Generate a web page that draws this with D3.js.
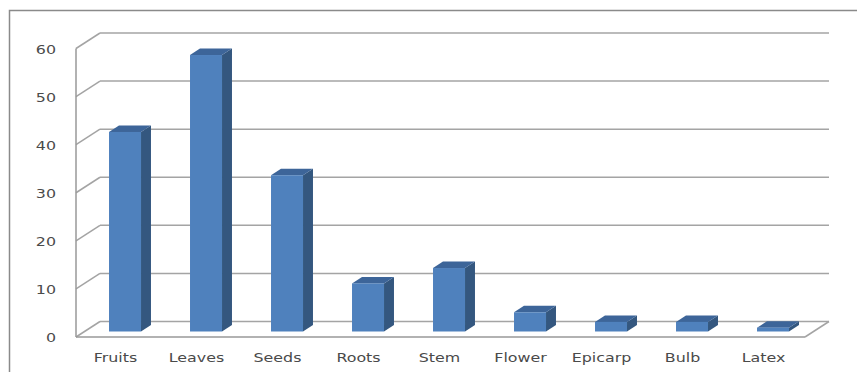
<!DOCTYPE html>
<html>
<head>
<meta charset="utf-8">
<script src="https://cdn.jsdelivr.net/npm/d3@7"></script>
<style>
  html, body { margin: 0; padding: 0; background: #ffffff; }
  svg { display: block; }
</style>
</head>
<body>
<svg id="chart" width="857" height="372"></svg>
<script>
// ---- data ----
const categories = ["Fruits", "Leaves", "Seeds", "Roots", "Stem", "Flower", "Epicarp", "Bulb", "Latex"];
const values = [41.5, 57.5, 32.5, 10, 13.2, 4, 2, 2, 0.8];
const yTicks = [0, 10, 20, 30, 40, 50, 60];

// ---- layout ----
const W = 857, H = 372;
const plotLeft = 76, plotRight = 805;
const depthX = 24, depthY = -15.5;      // projection of full floor depth
const barW = 32;
const barD0 = 0.355, barD1 = 0.77;      // bar front/back depth fraction

const svg = d3.select("#chart");

const x = d3.scaleBand().domain(categories).range([plotLeft, plotRight]).paddingInner(0).paddingOuter(0);
const yFront = d3.scaleLinear().domain([0, 60]).range([337, 48.5]);
const yAt = (v, d) => yFront(v) + depthY * d;
const xAt = (xx, d) => xx + depthX * d;

// outer border
svg.append("rect").attr("x", 9.5).attr("y", 10.5).attr("width", 870).attr("height", 400)
  .attr("fill", "none").attr("stroke", "#8a8a8a").attr("stroke-width", 1.5);

const grid = svg.append("g").attr("stroke", "#a4a4a4").attr("stroke-width", 1.5).attr("fill", "none");

// back wall gridlines + left wall diagonals
yTicks.forEach(t => {
  grid.append("line")
    .attr("x1", xAt(plotLeft, 1)).attr("x2", xAt(plotRight, 1))
    .attr("y1", yAt(t, 1)).attr("y2", yAt(t, 1));
  grid.append("line")
    .attr("x1", plotLeft).attr("y1", yFront(t))
    .attr("x2", xAt(plotLeft, 1)).attr("y2", yAt(t, 1));
});
// left vertical front edge
grid.append("line").attr("x1", plotLeft).attr("x2", plotLeft)
  .attr("y1", yFront(60)).attr("y2", yFront(0)).attr("stroke", "#999");
// floor front edge + right diagonal
grid.append("line").attr("x1", plotLeft).attr("x2", plotRight)
  .attr("y1", yFront(0)).attr("y2", yFront(0)).attr("stroke", "#999");
grid.append("line").attr("x1", plotRight).attr("y1", yFront(0))
  .attr("x2", xAt(plotRight, 1)).attr("y2", yAt(0, 1));

// bars
const bars = svg.append("g");
const data = categories.map((c, i) => ({ c, v: values[i] }));
data.forEach(d => {
  const x0 = x(d.c) + (x.bandwidth() - barW) / 2 + depthX * barD0;
  const x1 = x0 + barW;
  const ddx = depthX * (barD1 - barD0);
  const ddy = depthY * (barD1 - barD0);
  const yb = yAt(0, barD0), yt = yAt(d.v, barD0);
  // side
  bars.append("polygon")
    .attr("points", [[x1, yb], [x1, yt], [x1 + ddx, yt + ddy], [x1 + ddx, yb + ddy]].join(" "))
    .attr("fill", "#34577f");
  // top
  bars.append("polygon")
    .attr("points", [[x0, yt], [x1, yt], [x1 + ddx, yt + ddy], [x0 + ddx, yt + ddy]].join(" "))
    .attr("fill", "#3d6599");
  // front
  bars.append("rect").attr("x", x0).attr("y", yt).attr("width", barW).attr("height", yb - yt)
    .attr("fill", "#4f81bd");
});

const sx = 1.27;
const fontFamily = "'DejaVu Sans', Verdana, sans-serif";

// y axis labels
const yAxis = svg.append("g").attr("transform", `translate(${plotLeft},0)`)
  .call(d3.axisLeft(yFront).tickValues(yTicks).tickSize(0).tickPadding(0));
yAxis.select(".domain").remove();
yAxis.selectAll("text")
  .attr("x", -20 / sx).attr("dy", null).attr("y", 4.5)
  .attr("transform", `scale(${sx},1)`)
  .attr("fill", "#4a4a4a").attr("font-size", 12.5).attr("font-family", fontFamily);

// x axis labels
const xAxis = svg.append("g").attr("transform", `translate(-1,${yFront(0)})`)
  .call(d3.axisBottom(x).tickSize(0).tickPadding(0));
xAxis.select(".domain").remove();
xAxis.selectAll("text")
  .attr("y", 25).attr("dy", null)
  .attr("transform", `scale(${sx},1)`)
  .attr("fill", "#4a4a4a").attr("font-size", 12.5).attr("font-family", fontFamily);
xAxis.selectAll(".tick").each(function() {
  const t = d3.select(this);
  const m = /translate\(([^,]+),/.exec(t.attr("transform"));
  const cx = +m[1];
  t.attr("transform", `translate(${cx},0)`);
});
</script>
</body>
</html>
